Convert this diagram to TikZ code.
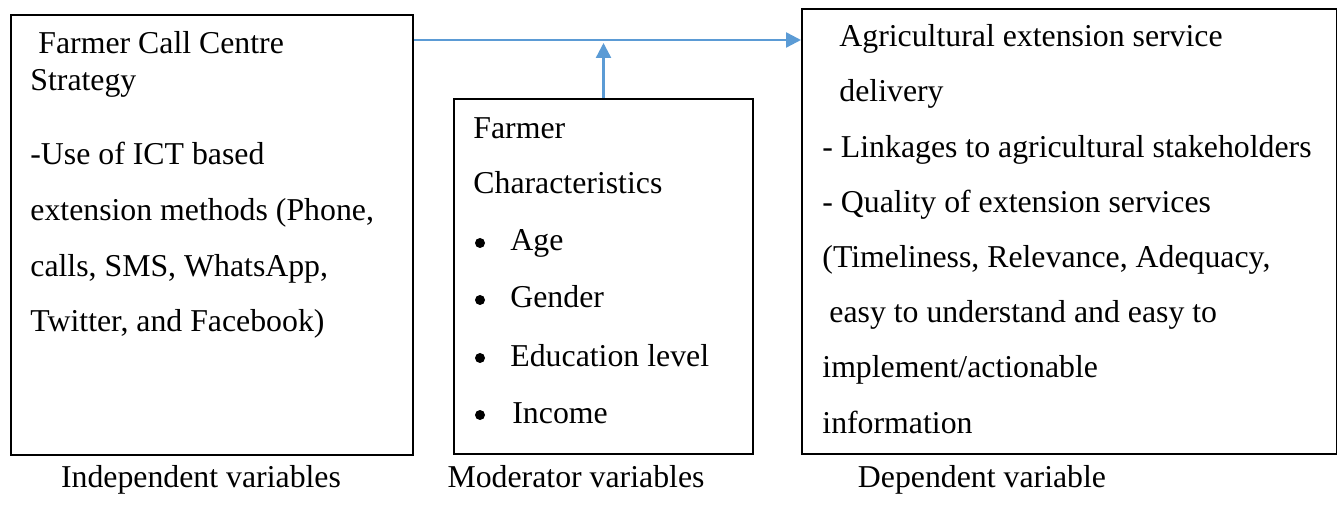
\documentclass[tikz,border=0pt]{standalone}
\usepackage{fontspec}
\setmainfont{Liberation Serif}
\usetikzlibrary{arrows.meta,positioning,calc}
\definecolor{link-color}{HTML}{5B9BD5}

\begin{document}
\begin{tikzpicture}[x=0.5pt, y=-0.5pt,
                >={Triangle[length=7.5pt,width=7.5pt]},
                box/.style={draw, line width=1pt, anchor=north west, inner sep=0pt},
                txt/.style={anchor=base west, inner sep=0pt, font=\fontsize{15.9}{18}\selectfont},
                lbl/.style={anchor=base, inner sep=0pt, font=\fontsize{15.9}{18}\selectfont},
                dot/.style={circle, fill, inner sep=0pt, minimum size=5pt},
                link/.style={->, draw=link-color, fill=link-color, line width=1.2pt}]

               \useasboundingbox (0,0) rectangle (1337,523);

               % the three boxes
               \node [box, minimum width=201pt, minimum height=220pt] (ind) at (10,14) {};
               \node [box, minimum width=149.5pt, minimum height=177.5pt] (mod) at (453,98) {};
               \node [box, minimum width=267.5pt, minimum height=222.5pt] (dep) at (801,8) {};

               % independent variables
               \foreach \x/\y/\t [count=\i] in {38/54/{Farmer Call Centre}, 30/91/{Strategy},
                        30/165/{-Use of ICT based}, 30/221/{extension methods (Phone,},
                        30/277/{calls, SMS, WhatsApp,}, 30/332/{Twitter, and Facebook)}}
                  \node [txt] (ind-\i) at (\x,\y) {\t};

               % moderator variables
               \node [txt] (mod-1) at (473,139) {Farmer};
               \node [txt] (mod-2) at (473,194) {Characteristics};
               \foreach \x/\y/\t [count=\i] in {510/251/Age, 510/308/Gender,
                        510/366/{Education level}, 512/423/Income} {
                  \node [dot] (dot-\i) at (480,\y-8) {};
                  \node [txt] (item-\i) at (\x,\y) {\t};
               }

               % dependent variable
               \foreach \x/\y/\t [count=\i] in {839/47/{Agricultural extension service},
                        839/102/{delivery}, 822/158/{- Linkages to agricultural stakeholders},
                        822/213/{- Quality of extension services},
                        822/268/{(Timeliness, Relevance, Adequacy,},
                        829/323/{easy to understand and easy to},
                        822/378/{implement/actionable}, 822/433/{information}}
                  \node [txt] (dep-\i) at (\x,\y) {\t};

               % captions
               \node [lbl] (ind-lbl) at (201,487) {Independent variables};
               \node [lbl] (mod-lbl) at (576,487) {Moderator variables};
               \node [lbl] (dep-lbl) at (982,487) {Dependent variable};

               % connectors
               \coordinate (split) at (602,40);
               \draw [link] (ind.east |- split) -- (dep.west |- split);
               \draw [link] (mod.north) -- ++(0,-55);
        \end{tikzpicture}
\end{document}
